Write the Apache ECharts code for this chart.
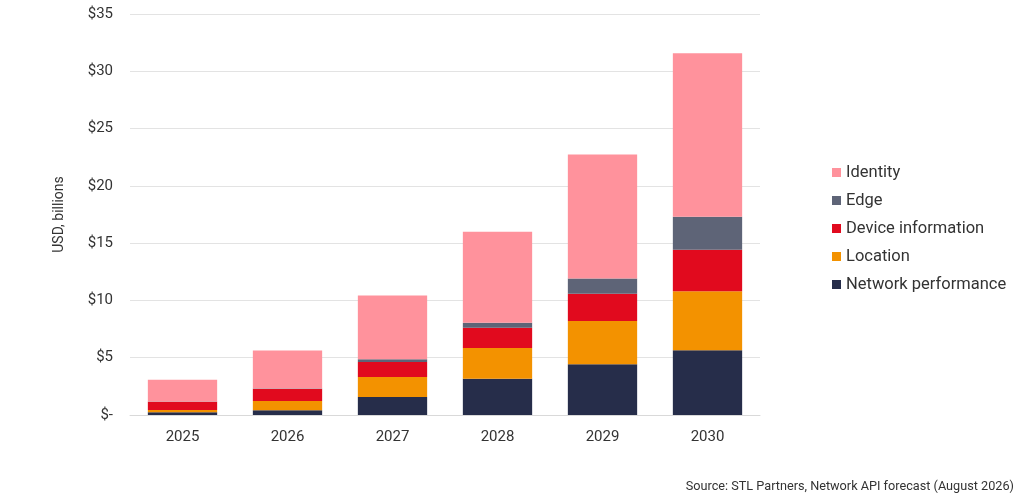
<!DOCTYPE html>
<html>
<head>
<meta charset="utf-8">
<script src="https://cdn.jsdelivr.net/npm/echarts@6/dist/echarts.min.js"></script>
<style>
  html, body { margin: 0; padding: 0; background: #fff; }
  #main { width: 1024px; height: 503px; }
</style>
</head>
<body>
<div id="main"></div>
<script>
// 年份
var years = ['2025', '2026', '2027', '2028', '2029', '2030'];
// 各类别数值（十亿美元）
var networkPerf = [0.24, 0.41, 1.57, 3.17, 4.42, 5.65];
var location2 = [0.20, 0.81, 1.75, 2.68, 3.78, 5.15];
var deviceInfo = [0.72, 1.05, 1.31, 1.77, 2.38, 3.63];
var edge = [0.02, 0.05, 0.24, 0.44, 1.34, 2.88];
var identity = [1.89, 3.30, 5.55, 7.94, 10.82, 14.26];
var yTicks = [0, 5, 10, 15, 20, 25, 30, 35];

var chart = echarts.init(document.getElementById('main'));

function bar(name, data, color) {
  return {
    name: name,
    type: 'bar',
    stack: 'total',
    barWidth: '66%',
    data: data,
    itemStyle: { color: color }
  };
}

var option = {
  animation: false,
  textStyle: { fontFamily: 'Roboto' },
  grid: { left: 130, right: 264, top: 14, bottom: 88 },
  legend: {
    orient: 'vertical',
    left: 832,
    top: 164,
    padding: 0,
    itemWidth: 9,
    itemHeight: 9,
    itemGap: 11,
    icon: 'rect',
    textStyle: { fontSize: 16.5, lineHeight: 16, color: '#333', fontFamily: 'Roboto' },
    data: ['Identity', 'Edge', 'Device information', 'Location', 'Network performance']
  },
  xAxis: {
    type: 'category',
    data: years,
    axisTick: { show: false },
    axisLine: { lineStyle: { color: '#d9d9d9' } },
    axisLabel: { fontSize: 15, color: '#333', margin: 15 }
  },
  yAxis: {
    type: 'value',
    min: yTicks[0],
    max: yTicks[yTicks.length - 1],
    interval: 5,
    name: 'USD, billions',
    nameLocation: 'middle',
    nameGap: 64,
    nameTextStyle: { fontSize: 14, color: '#333' },
    axisLabel: {
      fontSize: 15,
      color: '#333',
      margin: 17,
      formatter: function (v) { return v === 0 ? '$-' : '$' + v; }
    },
    splitLine: { lineStyle: { color: '#e3e3e3' } }
  },
  graphic: [{
    type: 'text',
    right: 10,
    top: 480,
    style: {
      text: 'Source: STL Partners, Network API forecast (August 2026)',
      fontSize: 12.7,
      fill: '#333',
      fontFamily: 'Roboto'
    }
  }],
  series: [
    bar('Network performance', networkPerf, '#262d4a'),
    bar('Location', location2, '#f39200'),
    bar('Device information', deviceInfo, '#e10a1e'),
    bar('Edge', edge, '#5e6477'),
    bar('Identity', identity, '#ff929c')
  ]
};

chart.setOption(option);
</script>
</body>
</html>
